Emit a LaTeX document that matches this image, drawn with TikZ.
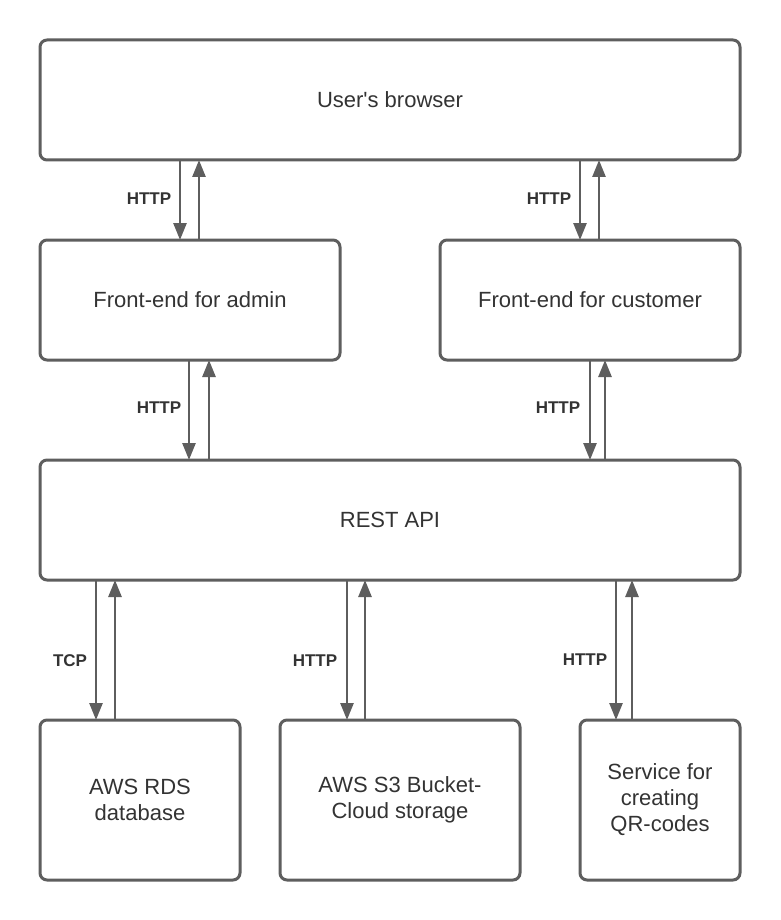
\documentclass[tikz,border=0pt]{standalone}
\usepackage{fontspec}
\setmainfont{Liberation Sans}
\usetikzlibrary{arrows.meta}
\definecolor{linegray}{HTML}{5E5E5E}
\definecolor{txt}{HTML}{333333}
\begin{document}
\begin{tikzpicture}[x=1pt,y=-1pt,
  box/.style={draw=linegray, line width=3pt, rounded corners=7pt, fill=white,
    inner sep=0pt, outer sep=0pt, align=center, text=txt,
    font=\fontsize{22}{26}\selectfont},
  arr/.style={draw=linegray, line width=2.6pt, -{Triangle[length=17pt,width=13pt]}},
  lbl/.style={text=txt, inner sep=0pt, font=\fontsize{17}{20}\selectfont\bfseries}]
\useasboundingbox[fill=white] (0,0) rectangle (780,920);

\node[box, minimum width=700pt, minimum height=120pt] (browser) at (390,100) {User\textquotesingle s browser};
\node[box, minimum width=300pt, minimum height=120pt] (admin) at (190,300) {Front-end for admin};
\node[box, minimum width=300pt, minimum height=120pt] (customer) at (590,300) {Front-end for customer};
\node[box, minimum width=700pt, minimum height=120pt] (rest) at (390,520) {REST API};
\node[box, minimum width=200pt, minimum height=160pt] (rds) at (140,800) {AWS RDS\\database};
\node[box, minimum width=240pt, minimum height=160pt] (s3) at (400,800) {AWS S3 Bucket-\\Cloud storage};
\node[box, minimum width=160pt, minimum height=160pt] (qr) at (660,800) {Service for\\creating\\QR-codes};

% browser <-> admin
\draw[arr] ([xshift=-210pt]browser.south) -- ([xshift=-10pt]admin.north);
\draw[arr] ([xshift=9pt]admin.north) -- ([xshift=-191pt]browser.south);
% browser <-> customer
\draw[arr] ([xshift=190pt]browser.south) -- ([xshift=-10pt]customer.north);
\draw[arr] ([xshift=9pt]customer.north) -- ([xshift=209pt]browser.south);
% admin <-> rest
\draw[arr] ([xshift=-1pt]admin.south) -- ([xshift=-201pt]rest.north);
\draw[arr] ([xshift=-181pt]rest.north) -- ([xshift=19pt]admin.south);
% customer <-> rest
\draw[arr] ([xshift=0pt]customer.south) -- ([xshift=200pt]rest.north);
\draw[arr] ([xshift=215pt]rest.north) -- ([xshift=15pt]customer.south);
% rest <-> rds
\draw[arr] ([xshift=-294pt]rest.south) -- ([xshift=-44pt]rds.north);
\draw[arr] ([xshift=-25pt]rds.north) -- ([xshift=-275pt]rest.south);
% rest <-> s3
\draw[arr] ([xshift=-43pt]rest.south) -- ([xshift=-53pt]s3.north);
\draw[arr] ([xshift=-35pt]s3.north) -- ([xshift=-25pt]rest.south);
% rest <-> qr
\draw[arr] ([xshift=226pt]rest.south) -- ([xshift=-44pt]qr.north);
\draw[arr] ([xshift=-28pt]qr.north) -- ([xshift=242pt]rest.south);

\node[lbl] (l1) at (149,199) {HTTP};
\node[lbl] (l2) at (549,199) {HTTP};
\node[lbl] (l3) at (159,408) {HTTP};
\node[lbl] (l4) at (558,408) {HTTP};
\node[lbl] (l5) at (70,661) {TCP};
\node[lbl] (l6) at (315,661) {HTTP};
\node[lbl] (l7) at (585,660) {HTTP};
\end{tikzpicture}
\end{document}
